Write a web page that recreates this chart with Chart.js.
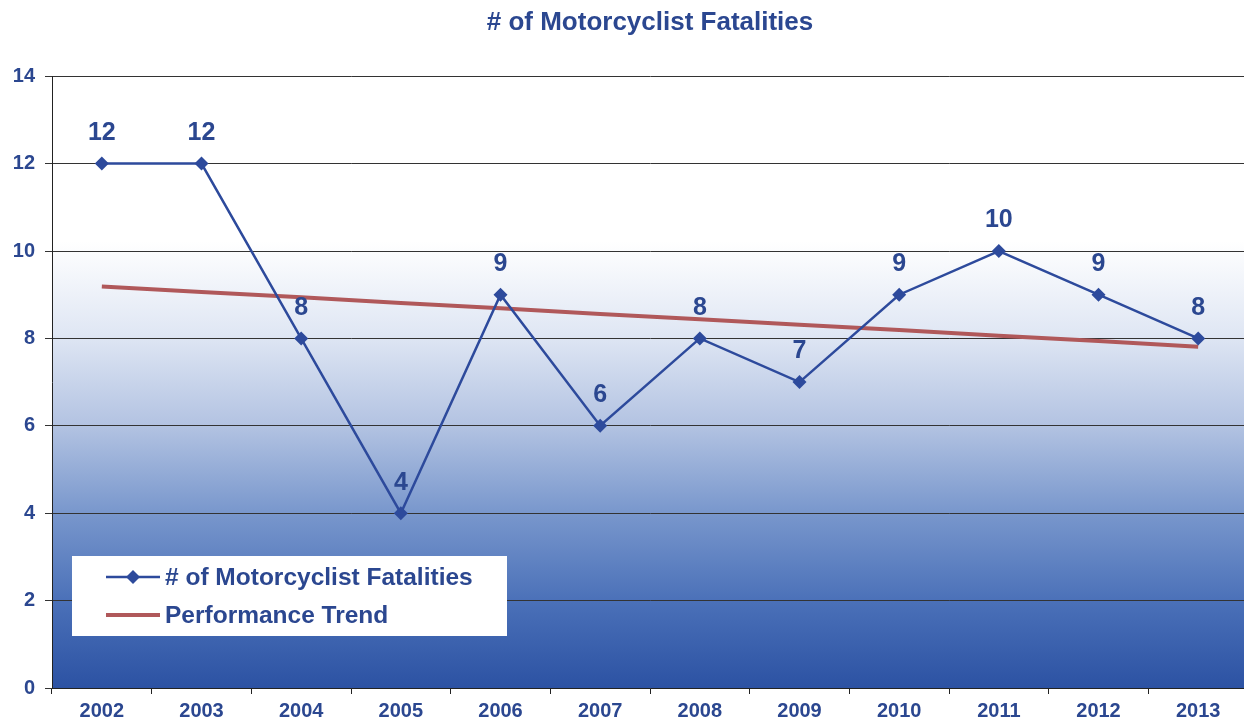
<!DOCTYPE html>
<html>
<head>
<meta charset="utf-8">
<script src="https://cdn.jsdelivr.net/npm/chart.js@4.4.1/dist/chart.umd.min.js"></script>
<style>
  html, body { margin: 0; padding: 0; background: #fff; overflow: hidden; }
  #wrap { position: relative; width: 1255px; height: 728px; }
</style>
</head>
<body>
<div id="wrap"><canvas id="fatalChart" width="1255" height="728"></canvas></div>
<script>
// data
var years = ['2002', '2003', '2004', '2005', '2006', '2007', '2008', '2009', '2010', '2011', '2012', '2013'];
var fatalities = [12, 12, 8, 4, 9, 6, 8, 7, 9, 10, 9, 8];
var trend = [9.19, 9.06, 8.94, 8.81, 8.69, 8.56, 8.44, 8.31, 8.19, 8.06, 7.94, 7.81];
var yTicks = [0, 2, 4, 6, 8, 10, 12, 14];

var navy = '#2b4790';
var lineBlue = '#2d4a9c';
var trendRed = '#b0585a';
var fontFam = '"Liberation Sans", Arial, sans-serif';

// gradient behind the plot
var bgPlugin = {
    id: 'bgFill',
    beforeDraw: function (chart) {
        var a = chart.chartArea;
        var c = chart.ctx;
        var g = c.createLinearGradient(0, a.top, 0, a.bottom);
        g.addColorStop(0, '#ffffff');
        g.addColorStop(0.27, '#ffffff');
        g.addColorStop(0.42, '#e0e7f4');
        g.addColorStop(0.57, '#b3c3e2');
        g.addColorStop(0.71, '#7a98cd');
        g.addColorStop(0.86, '#4a70b8');
        g.addColorStop(1, '#2c52a3');
        c.save();
        c.fillStyle = g;
        c.fillRect(a.left, a.top, a.right - a.left, a.bottom - a.top);
        c.restore();
    }
};

// value labels above the points + legend box
var labelPlugin = {
    id: 'valueLabels',
    afterDatasetsDraw: function (chart) {
        var c = chart.ctx;
        var meta = chart.getDatasetMeta(0);
        c.save();
        c.font = 'bold 25px ' + fontFam;
        c.fillStyle = navy;
        c.textAlign = 'center';
        c.textBaseline = 'bottom';
        meta.data.forEach(function (pt, i) {
            c.fillText(String(fatalities[i]), pt.x, pt.y - 18);
        });
        c.restore();
    },
    afterDraw: function (chart) {
        var c = chart.ctx;
        c.save();
        c.fillStyle = '#ffffff';
        c.fillRect(72, 556, 435, 80);
        // series 1
        c.strokeStyle = lineBlue;
        c.lineWidth = 2.5;
        c.beginPath();
        c.moveTo(106, 577);
        c.lineTo(160, 577);
        c.stroke();
        c.fillStyle = lineBlue;
        c.beginPath();
        c.moveTo(133, 570);
        c.lineTo(140, 577);
        c.lineTo(133, 584);
        c.lineTo(126, 577);
        c.closePath();
        c.fill();
        // series 2
        c.strokeStyle = trendRed;
        c.lineWidth = 4;
        c.beginPath();
        c.moveTo(106, 615);
        c.lineTo(160, 615);
        c.stroke();
        c.font = 'bold 24.5px ' + fontFam;
        c.fillStyle = navy;
        c.textBaseline = 'middle';
        c.fillText('# of Motorcyclist Fatalities', 165, 578);
        c.fillText('Performance Trend', 165, 616);
        c.restore();
    }
};

var ctx = document.getElementById('fatalChart').getContext('2d');
var chart = new Chart(ctx, {
    type: 'line',
    data: {
        labels: years,
        datasets: [{
            label: '# of Motorcyclist Fatalities',
            data: fatalities,
            borderColor: lineBlue,
            backgroundColor: lineBlue,
            borderWidth: 2.5,
            pointStyle: 'rectRot',
            pointRadius: 7,
            pointBorderWidth: 0,
            tension: 0,
            order: 1
        }, {
            label: 'Performance Trend',
            data: trend,
            borderColor: trendRed,
            backgroundColor: trendRed,
            borderWidth: 4,
            pointRadius: 0,
            tension: 0,
            order: 2
        }]
    },
    options: {
        responsive: false,
        animation: false,
        layout: {
            padding: { top: 0, left: 0, right: 0, bottom: 0 }
        },
        plugins: {
            legend: { display: false },
            tooltip: { enabled: false },
            title: {
                display: true,
                fullSize: false,
                text: '# of Motorcyclist Fatalities',
                color: navy,
                font: { family: fontFam, size: 26, weight: 'bold' },
                padding: { top: 7, bottom: 38 }
            }
        },
        scales: {
            x: {
                offset: true,
                grid: {
                    offset: true,
                    drawOnChartArea: false,
                    drawTicks: true,
                    tickLength: 6,
                    color: '#222'
                },
                border: { display: true, color: '#222', width: 1 },
                ticks: {
                    color: navy,
                    font: { family: fontFam, size: 20, weight: 'bold' },
                    padding: 5,
                    autoSkip: false,
                    maxRotation: 0
                },
                afterFit: function (s) { s.height = 40; }
            },
            y: {
                min: 0,
                max: 14,
                afterBuildTicks: function (s) {
                    s.ticks = yTicks.map(function (v) { return { value: v }; });
                },
                grid: {
                    color: '#333',
                    lineWidth: 1,
                    tickLength: 7
                },
                border: { display: true, color: '#222', width: 1 },
                ticks: {
                    color: navy,
                    font: { family: fontFam, size: 20, weight: 'bold' },
                    padding: 10
                },
                afterFit: function (s) { s.width = 52; }
            }
        }
    },
    plugins: [bgPlugin, labelPlugin]
});
</script>
</body>
</html>
